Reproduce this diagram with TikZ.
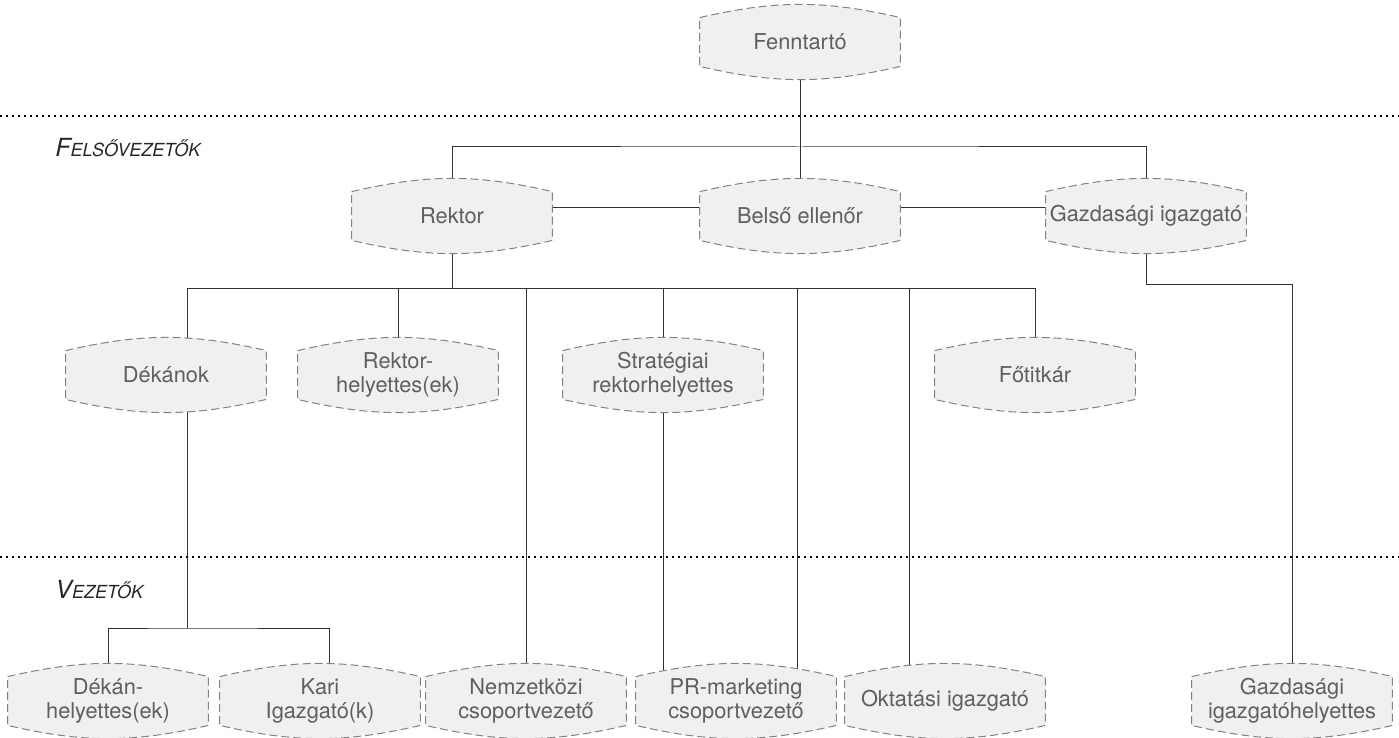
\documentclass[tikz,border=0pt]{standalone}
\usepackage{fontspec}
\setmainfont{TeX Gyre Heros}
\usepackage{tikz}
\usetikzlibrary{positioning,calc,backgrounds}
\definecolor{postfill}{RGB}{240,240,240}
\definecolor{postborder}{RGB}{130,130,130}
\definecolor{posttext}{RGB}{95,95,95}
\definecolor{linkcol}{RGB}{50,50,50}
\tikzset{
    post/.style={
        rectangle,
        inner sep=0pt,
        minimum width=100pt,
        minimum height=37pt,
        align=center,
        text=posttext,
        font=\fontsize{10.9}{11.8}\selectfont,
    },
    postline/.style={
        draw=postborder,
        fill=postfill,
        line width=0.5pt,
        dash pattern=on 4pt off 2pt,
    },
    link/.style={
        draw=linkcol,
        line width=0.5pt,
    },
    level/.style={
        draw=black,
        dotted,
        line width=1pt,
    },
    levellabel/.style={
        anchor=base west,
        inner sep=0pt,
        text=black!85,
        font=\itshape,
    },
}

\begin{document}
\begin{tikzpicture}[x=0.5pt,y=-0.5pt]
    \useasboundingbox (0,0) rectangle (1399,738);

    % Level separators and labels
    \draw[level] (0,116) -- (1399,116);
    \draw[level] (0,557) -- (1399,557);
    \node[levellabel] (felso) at (55,157) {{\fontsize{12.5}{14}\selectfont F}{\fontsize{9}{12}\selectfont ELSŐVEZETŐK}};
    \node[levellabel] (vez) at (55,598) {{\fontsize{12.5}{14}\selectfont V}{\fontsize{9}{12}\selectfont EZETŐK}};

    % Nodes and position definitions
    \node[post] (Fenn) at (800,42) {Fenntartó};

    \node[post] (Rektor) at (452,216) {Rektor};
    \node[post] (Belso) at (800,216) {Belső ellenőr};
    \node[post] (Gazd) at (1146,216) {Gazdasági igazgató};

    \node[post] (Dekanok) at (166,375) {Dékánok};
    \node[post] (Rhely) at (398,375) {Rektor-\\helyettes(ek)};
    \node[post] (Strat) at (663,375) {Stratégiai\\rektorhelyettes};
    \node[post] (Fotitkar) at (1035,375) {Főtitkár};

    \node[post] (Dhely) at (108,701) {Dékán-\\helyettes(ek)};
    \node[post] (Kari) at (320,701) {Kari\\Igazgató(k)};
    \node[post] (Nemzet) at (526,701) {Nemzetközi\\csoportvezető};
    \node[post] (PR) at (736,701) {PR-marketing\\csoportvezető};
    \node[post] (Okt) at (945,701) {Oktatási igazgató};
    \node[post] (Gazdh) at (1292,701) {Gazdasági\\igazgatóhelyettes};

    \coordinate (topfork) at (800,147);
    \coordinate (rfork) at (452,288);
    \coordinate (gfork) at (1146,284);
    \coordinate (dfork) at (187,628);

    \begin{scope}[on background layer]
        % Vertex definitions
        \draw[link] (Fenn) -- (Belso);
        \draw[link] (Rektor) |- (topfork) -| (Gazd);
        \draw[link] ([yshift=4pt]Rektor.center) -- ([yshift=4pt]Belso.center);
        \draw[link] ([yshift=4pt]Belso.center) -- ([yshift=4pt]Gazd.center);

        \draw[link] (Rektor) -- (rfork);
        \draw[link] ([xshift=10.5pt]Dekanok.center) |- (Fotitkar |- rfork) -- (Fotitkar);
        \draw[link] (Rhely) -- (Rhely |- rfork);
        \draw[link] (Strat) -- (Strat |- rfork);
        \draw[link] (Nemzet) -- (Nemzet |- rfork);
        \draw[link] ([xshift=30.5pt]PR.center) -- ([xshift=30.5pt]PR.center |- rfork);
        \draw[link] ([xshift=-18pt]Okt.center) -- ([xshift=-18pt]Okt.center |- rfork);
        \draw[link] (Strat) -- (Strat |- PR);

        \draw[link] (Gazd) -- (gfork) -| (Gazdh);

        \draw[link] ([xshift=10.5pt]Dekanok.center) -- (dfork);
        \draw[link] (Dhely) |- (dfork) -| ([xshift=4.5pt]Kari.center);

        % Post outlines
        \foreach \n in {Fenn,Rektor,Belso,Gazd,Dekanok,Rhely,Strat,Fotitkar,Dhely,Kari,Nemzet,PR,Okt,Gazdh}
            \path[postline] ([yshift=-6.5pt]\n.north west) to[bend left=13] ([yshift=-6.5pt]\n.north east)
                -- ([yshift=6.5pt]\n.south east) to[bend left=13] ([yshift=6.5pt]\n.south west) -- cycle;
    \end{scope}
\end{tikzpicture}
\end{document}
